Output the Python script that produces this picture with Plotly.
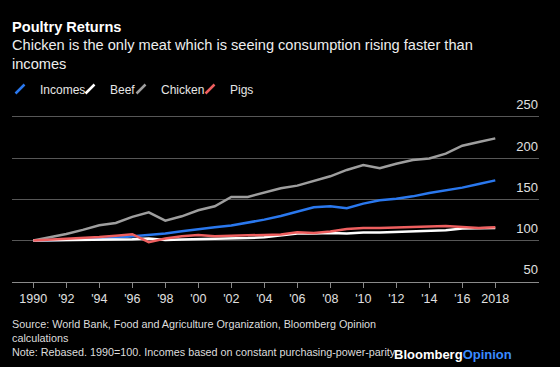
import plotly.graph_objects as go

years = list(range(1990, 2019))
incomes = [100, 100.5, 101, 101.5, 102, 103.5, 105.2, 107.2, 108.5, 111.3, 114.1, 116.1, 118.2, 121.4,
           125.4, 129.8, 135.5, 140.3, 141.5, 139.1, 144.8, 148.8, 150.8, 153.6, 157.7, 160.9, 164.2, 168.6, 173]
beef = [100, 100.2, 100.4, 100.5, 100.5, 101, 101.6, 102.4, 100.8, 101.2, 101.6, 101.8, 102, 103,
        104, 106, 108.5, 108.5, 109.3, 108.5, 109.7, 109.7, 110.5, 111.3, 112.5, 112.5, 114.5, 114.5, 115.3]
chicken = [100, 104, 108, 113, 118.5, 121.4, 128.7, 134.3, 124.2, 129.4, 136.7, 141.5, 152.9, 152.9,
           158.5, 163.5, 166.6, 171.8, 177.9, 185.6, 191.6, 187.6, 193.2, 197.7, 199.6, 205.3, 215, 219.5, 223.9]
pigs = [100, 101, 101.7, 103, 104.4, 106, 107.7, 98, 102.4, 105.2, 106.9, 105.2, 106, 106.9,
        106.9, 107.4, 110, 109.3, 110.9, 114.1, 115.3, 115.3, 116.1, 116.9, 117.7, 117.7, 116.5, 115.3, 116.1]

tick_vals = list(range(1990, 2019, 2))
tick_text = ["1990", "'92", "'94", "'96", "'98", "'00", "'02", "'04", "'06", "'08", "'10", "'12", "'14", "'16", "2018"]
y_ticks = [50, 100, 150, 200, 250]

series_names = ["Incomes", "Beef", "Chicken", "Pigs"]
series_vals = [incomes, beef, chicken, pigs]
series_colors = ["#2a78ee", "#ffffff", "#9e9e9e", "#ee5f5f"]

FONT = "Liberation Sans, Arial, sans-serif"
W, H = 560, 367
fig = go.Figure()
# draw order: chicken, incomes, beef, pigs on top
for idx in [2, 0, 1, 3]:
    fig.add_trace(go.Scatter(x=years, y=series_vals[idx], mode="lines", name=series_names[idx],
                             line=dict(color=series_colors[idx], width=2.5), showlegend=False))

# legend entries (one legend each, so they can sit where the reference has them)
legend_left_px = [0, 70, 121, 190]
legend_ids = ["legend", "legend2", "legend3", "legend4"]
legend_layout = {}
for i, name in enumerate(series_names):
    c = series_colors[i]
    fig.add_trace(go.Scatter(x=[None], y=[None], mode="markers", name=name, legend=legend_ids[i],
                             marker=dict(symbol="line-ne", size=9, color=c, line=dict(color=c, width=2.5))))
    legend_layout[legend_ids[i]] = dict(
        xref="container", yref="container", x=legend_left_px[i] / W, xanchor="left",
        y=1 - 89 / H, yanchor="middle", orientation="h", bgcolor="rgba(0,0,0,0)",
        font=dict(size=12, color="#e6e6e6"), itemwidth=30)

fig.update_layout(
    width=W, height=H,
    paper_bgcolor="black", plot_bgcolor="black",
    margin=dict(l=12, r=21, t=115, b=85, autoexpand=False),
    font=dict(family=FONT, color="#dddddd", size=13),
    showlegend=True,
    xaxis=dict(range=[1988.71, 2020.65], tickvals=tick_vals, ticktext=tick_text, automargin=False,
               showgrid=False, zeroline=False, showline=True, linecolor="#8a8a8a", linewidth=1,
               ticks="outside", ticklen=5, tickcolor="#8a8a8a", tickfont=dict(size=12.5, color="#e0e0e0")),
    yaxis=dict(range=[49.8, 252.2], tickvals=y_ticks, side="right", automargin=False,
               ticklabelposition="inside top", ticklabeloverflow="allow",
               ticklabelstandoff=-2, ticklabelshift=-3,
               showgrid=True, gridcolor="#575757", gridwidth=1, zeroline=False,
               tickfont=dict(size=13, color="#e0e0e0")),
    annotations=[
        dict(xref="paper", yref="paper", x=-0.004, y=1.527, xanchor="left", yanchor="middle",
             text="<b>Poultry Returns</b>", showarrow=False, font=dict(size=14.6, color="white")),
        dict(xref="paper", yref="paper", x=-0.004, y=1.365, xanchor="left", yanchor="middle", align="left",
             text="Chicken is the only meat which is seeing consumption rising faster than<br>incomes",
             showarrow=False, font=dict(size=14.6, color="#eeeeee")),
        dict(xref="paper", yref="paper", x=-0.004, y=-0.338, xanchor="left", yanchor="middle", align="left",
             text="Source: World Bank, Food and Agriculture Organization, Bloomberg Opinion<br>calculations<br>"
                  "Note: Rebased. 1990=100. Incomes based on constant purchasing-power-parity",
             showarrow=False, font=dict(size=10.8, color="#dddddd")),
        dict(xref="paper", yref="paper", x=0.953, y=-0.437, xanchor="right", yanchor="middle",
             text="<b>Bloomberg</b><b><span style='color:#3a8cff'>Opinion</span></b>",
             showarrow=False, font=dict(size=13, color="white")),
    ],
    **legend_layout,
)

fig.write_html("out.html", config={"displayModeBar": False},
               post_script="document.body.style.margin='0';")
